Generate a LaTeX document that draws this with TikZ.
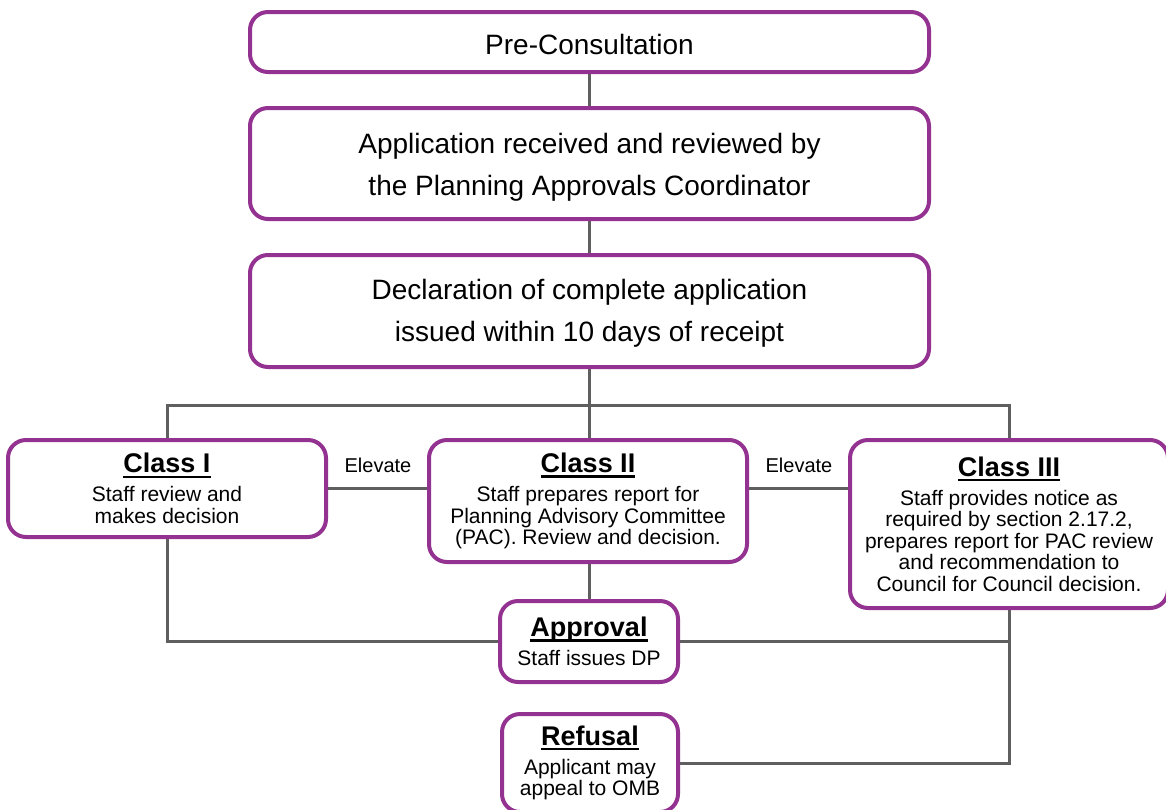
\documentclass[tikz,border=0pt]{standalone}
\usepackage{fontspec}
\setmainfont{Liberation Sans}
\usetikzlibrary{backgrounds}
\definecolor{boxpurple}{RGB}{147,50,145}
\definecolor{linegray}{RGB}{95,95,95}
\newcommand\ulttl[1]{\setbox0\hbox{#1}\rlap{\rule[-5pt]{\wd0}{2.2pt}}\box0}
\newcommand\ttlf{\fontsize{27}{29}\selectfont\bfseries}
\newcommand\dropby[2]{\raisebox{-#1}[\height][\depth]{\begin{tabular}{@{}c@{}}#2\end{tabular}}}
\begin{document}
\begin{tikzpicture}[x=1pt,y=-1pt,
  flowbox/.style={draw=boxpurple, line width=4pt, rounded corners=18pt, fill=white,
    inner sep=0pt, align=center, text=black},
  bigbox/.style={flowbox, minimum width=679pt, font=\fontsize{28}{42}\selectfont},
  smallbox/.style={flowbox, font=\fontsize{21}{21.5}\selectfont},
  conn/.style={draw=linegray, line width=3pt},
  lbl/.style={inner sep=0pt, font=\fontsize{20}{22}\selectfont, text=black}]
\useasboundingbox (0,0) rectangle (1166,809);

\node[bigbox, minimum height=60pt] (pre) at (589.5,42) {\dropby{3.6pt}{Pre-Consultation}};
\node[bigbox, minimum height=111pt] (app) at (589.5,163.5) {\dropby{3pt}{Application received and reviewed by\\the Planning Approvals Coordinator}};
\node[bigbox, minimum height=112pt] (decl) at (589.5,311) {\dropby{1pt}{Declaration of complete application\\issued within 10 days of receipt}};

\node[smallbox, minimum width=318pt, minimum height=97pt] (c1) at (167,488.5)
  {{\ttlf\ulttl{Class I}}\\[7.5pt]Staff review and\\makes decision};
\node[smallbox, minimum width=318pt, minimum height=122pt] (c2) at (588,501)
  {{\ttlf\ulttl{Class II}}\\[7.5pt]Staff prepares report for\\Planning Advisory Committee\\(PAC). Review and decision.};
\node[smallbox, minimum width=318pt, minimum height=168pt] (c3) at (1009,524)
  {{\ttlf\ulttl{Class III}}\\[7.5pt]Staff provides notice as\\required by section 2.17.2,\\prepares report for PAC review\\and recommendation to\\Council for Council decision.};

\node[smallbox, minimum width=178pt, minimum height=81pt] (appr) at (589,641.5)
  {{\ttlf\ulttl{Approval}}\\[7.5pt]Staff issues DP};
\node[smallbox, minimum width=176pt, minimum height=98pt] (ref) at (590,763)
  {{\ttlf\ulttl{Refusal}}\\[7.5pt]Applicant may\\appeal to OMB};

\node[lbl] (el1) at (378,465) {Elevate};
\node[lbl] (el2) at (799,465) {Elevate};

\begin{scope}[on background layer]
\draw[conn] (pre.south) -- (app.north);
\draw[conn] (app.south) -- (decl.north);
\draw[conn] (decl.south) -- (decl.south |- c2.north);
\draw[conn] (c1.north) -- ++(0,-33) -| (c3.north);
\draw[conn] (c1.east) -- (c1.east -| c2.west);
\draw[conn] (c2.east |- c1.east) -- (c1.east -| c3.west);
\draw[conn] (c1.south) |- (appr.west);
\draw[conn] (c2.south -| appr.north) -- (appr.north);
\draw[conn] (c3.south) |- (appr.east);
\draw[conn] (c3.south) |- (ref.east);
\end{scope}
\end{tikzpicture}
\end{document}
